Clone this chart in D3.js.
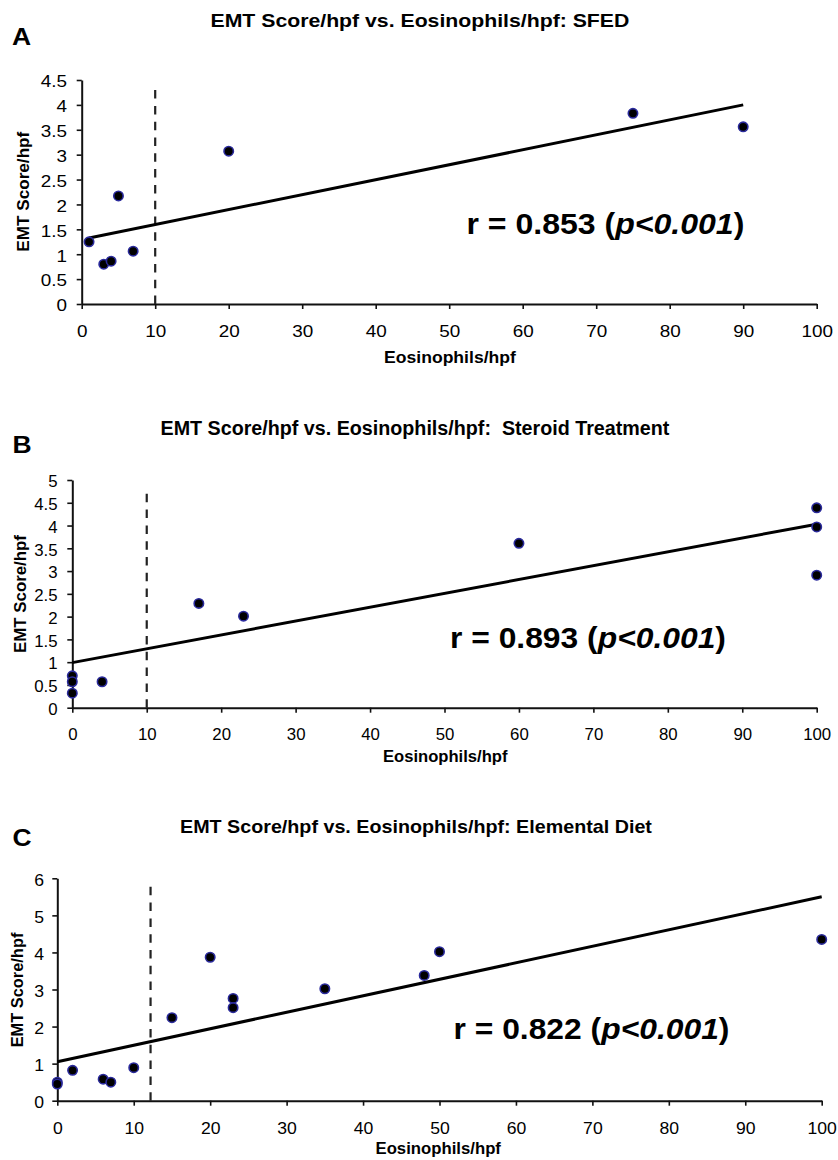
<!DOCTYPE html>
<html><head><meta charset="utf-8">
<script src="https://cdn.jsdelivr.net/npm/d3@7"></script>
<style>
body{margin:0;background:#fff;}
svg text{font-family:"Liberation Sans",Arial,Helvetica,sans-serif;fill:#000;white-space:pre;}
</style></head><body>
<svg id="chart" width="838" height="1160"></svg>
<script>
// ---------- data ----------
const panelLetters = ["A", "B", "C"];
const titles = [
  "EMT Score/hpf vs. Eosinophils/hpf: SFED",
  "EMT Score/hpf vs. Eosinophils/hpf:  Steroid Treatment",
  "EMT Score/hpf vs. Eosinophils/hpf: Elemental Diet"
];
const xAxisTitle = "Eosinophils/hpf";
const yAxisTitle = "EMT Score/hpf";
const rValues = ["0.853", "0.893", "0.822"];
const pText = "p<0.001";

const xTicks = [0, 10, 20, 30, 40, 50, 60, 70, 80, 90, 100];
const yTicksA = [0, 0.5, 1, 1.5, 2, 2.5, 3, 3.5, 4, 4.5];
const yTicksB = [0, 0.5, 1, 1.5, 2, 2.5, 3, 3.5, 4, 4.5, 5];
const yTicksC = [0, 1, 2, 3, 4, 5, 6];

const eosA = [1, 3, 4, 5, 7, 20, 75, 90];
const emtA = [1.25, 0.8, 0.86, 2.17, 1.06, 3.07, 3.83, 3.56];
const fitA = [[1, 1.325], [90, 4.0]];
const cutoffA = [[10, 0], [10, 4.34]];

const eosB = [0, 0, 0, 4, 17, 23, 60, 100, 100, 100];
const emtB = [0.7, 0.57, 0.32, 0.57, 2.29, 2.01, 3.61, 4.39, 3.97, 2.91];
const fitB = [[0, 0.99], [100, 4.03]];
const cutoffB = [[10, 0], [10, 4.81]];

const eosC = [0, 0, 2, 6, 7, 10, 15, 20, 23, 23, 35, 48, 50, 100];
const emtC = [0.5, 0.45, 0.82, 0.58, 0.5, 0.89, 2.24, 3.87, 2.76, 2.51, 3.02, 3.38, 4.02, 4.35];
const fitC = [[0, 1.05], [100, 5.5]];
const cutoffC = [[12.2, 0], [12.2, 5.84]];

// ---------- layout ----------
const layout = [
  {letter:{x:12,y:45}, title:{x:210.5,y:27.3,w:419,size:17.5},
   plot:{l:81.7,r:816.7,b:304,t:80}, tickScale:1.18, yLabelX:67, xLabelDy:33.3,
   xTitle:{x:384,y:363,w:132}, yTitle:{x:29,cy:191.7,len:120}, r:{x:466.5,y:234.3,w:278}},
  {letter:{x:12.5,y:453.3}, title:{x:160.5,y:435,w:509,size:19.5},
   plot:{l:72.3,r:816.7,b:707.7,t:480}, tickScale:1.05, yLabelX:57.5, xLabelDy:32.3,
   xTitle:{x:383,y:761.5,w:124.5}, yTitle:{x:26,cy:594,len:118}, r:{x:450,y:648.3,w:276}},
  {letter:{x:12.5,y:846}, title:{x:180,y:833.3,w:472,size:18.6},
   plot:{l:57.3,r:821.7,b:1100.7,t:878.3}, tickScale:1.1, yLabelX:44, xLabelDy:33.3,
   xTitle:{x:375.5,y:1154,w:125.5}, yTitle:{x:23,cy:990,len:114.7}, r:{x:453.5,y:1039.3,w:276}}
];

const panels = [
  {xs:eosA, ys:emtA, fit:fitA, cut:cutoffA, yTicks:yTicksA},
  {xs:eosB, ys:emtB, fit:fitB, cut:cutoffB, yTicks:yTicksB},
  {xs:eosC, ys:emtC, fit:fitC, cut:cutoffC, yTicks:yTicksC}
];

const svg = d3.select("#chart");

function widthOf(sel){ return sel.node().getComputedTextLength(); }

panels.forEach((p, i) => {
  const L = layout[i];
  const g = svg.append("g");
  const x = d3.scaleLinear().domain([0, 100]).range([L.plot.l, L.plot.r]);
  const yMax = p.yTicks[p.yTicks.length - 1];
  const y = d3.scaleLinear().domain([0, yMax]).range([L.plot.b, L.plot.t]);

  // panel letter
  g.append("text").text(panelLetters[i])
    .attr("font-size", 23).attr("font-weight", "bold")
    .attr("transform", `translate(${L.letter.x},${L.letter.y}) scale(1.15,1)`);

  // title
  const t = g.append("text").text(titles[i])
    .attr("font-size", L.title.size).attr("font-weight", "bold");
  const ts = L.title.w / widthOf(t);
  t.attr("transform", `translate(${L.title.x},${L.title.y}) scale(${ts},1)`);

  // axes
  const xAxis = g.append("g").attr("transform", `translate(0,${L.plot.b})`)
    .call(d3.axisBottom(x).tickValues(xTicks).tickSize(5).tickSizeOuter(0).tickFormat(d => String(d)));
  const yAxis = g.append("g").attr("transform", `translate(${L.plot.l},0)`)
    .call(d3.axisLeft(y).tickValues(p.yTicks).tickSize(5).tickSizeOuter(0).tickFormat(d => String(d)));

  [xAxis, yAxis].forEach(a => {
    a.attr("font-family", null).attr("font-size", null);
    a.select(".domain").attr("stroke", "#111").attr("stroke-width", 2);
    a.selectAll(".tick line").attr("stroke", "#111").attr("stroke-width", 1.6);
    a.selectAll(".tick text").attr("font-size", 16).attr("fill", "#000");
  });
  xAxis.selectAll(".tick text")
    .attr("y", null).attr("dy", null).attr("text-anchor", "middle")
    .attr("transform", `translate(0,${L.xLabelDy}) scale(${L.tickScale},1)`);
  yAxis.selectAll(".tick text")
    .attr("x", null).attr("dy", "0.33em").attr("text-anchor", "end")
    .attr("transform", `translate(${L.yLabelX - L.plot.l},1.5) scale(${L.tickScale},1)`);

  // axis titles
  const xt = g.append("text").text(xAxisTitle)
    .attr("font-size", 16.5).attr("font-weight", "bold");
  const xs = L.xTitle.w / widthOf(xt);
  xt.attr("transform", `translate(${L.xTitle.x},${L.xTitle.y}) scale(${xs},1)`);

  const yt = g.append("text").text(yAxisTitle)
    .attr("font-size", 16.5).attr("font-weight", "bold").attr("text-anchor", "middle");
  const ys = L.yTitle.len / widthOf(yt);
  yt.attr("transform", `translate(${L.yTitle.x},${L.yTitle.cy}) rotate(-90) scale(${ys},1)`);

  const line = d3.line().x(d => x(d[0])).y(d => y(d[1]));

  // cutoff dashed line
  g.append("path").attr("d", line(p.cut))
    .attr("stroke", "#222").attr("stroke-width", 2.2)
    .attr("stroke-dasharray", "8.5,7.3").attr("fill", "none");

  // fitted trend line
  g.append("path").attr("d", line(p.fit))
    .attr("stroke", "#000").attr("stroke-width", 3).attr("fill", "none");

  // points
  g.selectAll("circle.pt").data(p.xs.map((v, k) => [v, p.ys[k]]))
    .join("circle").attr("class", "pt")
    .attr("cx", d => x(d[0])).attr("cy", d => y(d[1]))
    .attr("r", 4.7).attr("fill", "#000")
    .attr("stroke", "#2a2a9c").attr("stroke-width", 1.6);

  // r annotation
  const rt = g.append("text").attr("font-size", 29).attr("font-weight", "bold");
  rt.append("tspan").text(`r = ${rValues[i]} (`);
  rt.append("tspan").attr("font-style", "italic").text(pText);
  rt.append("tspan").text(")");
  const rs = L.r.w / widthOf(rt);
  rt.attr("transform", `translate(${L.r.x},${L.r.y}) scale(${rs},1)`);
});
</script>
</body></html>
